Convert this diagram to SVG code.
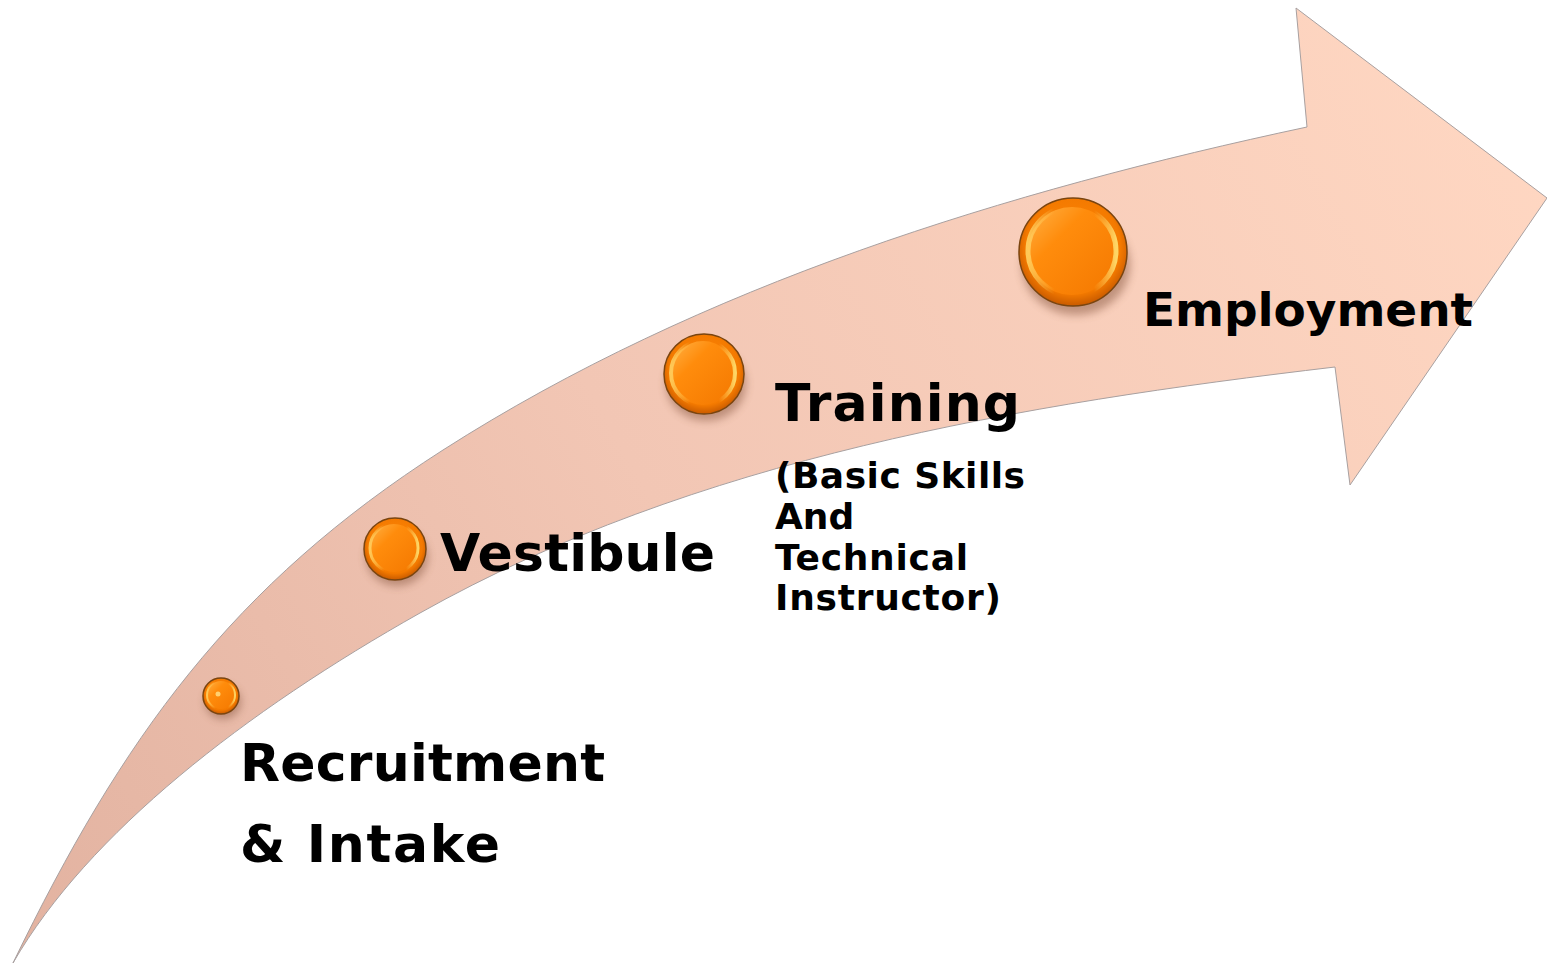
<svg xmlns="http://www.w3.org/2000/svg" width="1547" height="967" viewBox="0 0 1547 967">
<defs>
<linearGradient id="arrowGrad" x1="0" y1="967" x2="1547" y2="100" gradientUnits="userSpaceOnUse">
<stop offset="0" stop-color="#e2b2a0"/>
<stop offset="0.45" stop-color="#f2c6b4"/>
<stop offset="1" stop-color="#ffd7c2"/>
</linearGradient>
<radialGradient id="ballBody" cx="0.5" cy="0.45" r="0.55">
<stop offset="0" stop-color="#ff8a0a"/>
<stop offset="0.8" stop-color="#f47a00"/>
<stop offset="1" stop-color="#c85a00"/>
</radialGradient>
<linearGradient id="ballInner" x1="0" y1="0" x2="1" y2="1">
<stop offset="0" stop-color="#ffb347"/>
<stop offset="0.35" stop-color="#ff8c0c"/>
<stop offset="1" stop-color="#f47800"/>
</linearGradient>
<linearGradient id="rimLight" x1="0" y1="0" x2="1" y2="0">
<stop offset="0" stop-color="#ffd060" stop-opacity="0.9"/>
<stop offset="0.3" stop-color="#ffd060" stop-opacity="0"/>
<stop offset="0.75" stop-color="#ffd060" stop-opacity="0"/>
<stop offset="1" stop-color="#ffe070" stop-opacity="0.9"/>
</linearGradient>
<filter id="shadow" x="-50%" y="-50%" width="200%" height="200%">
<feGaussianBlur stdDeviation="4"/>
</filter>
</defs>
<style>
.lbl{font-family:"DejaVu Sans","Liberation Sans",sans-serif;font-weight:bold;fill:#000;}
.big{font-size:52px;}
.mid{font-size:47px;}
.small{font-size:36px;}
.rim{fill:url(#ballBody);stroke:#7a4510;stroke-width:1.5;}
.inner{fill:url(#ballInner);}
.gloss{fill:none;stroke:url(#rimLight);}
.shd{fill:#7a4a30;opacity:0.45;filter:url(#shadow);}
</style>
<g id="connectors">
<path id="arrow" fill="url(#arrowGrad)" stroke="#a8a0a0" stroke-width="1" d="M13,963 C122,738 232,585 443,450 C701,285 1007,191 1307,127 L1296,8 L1547,198 L1350,485 L1335,367 C1021,404 696,458 420,613 C246,711 88,833 13,963 Z"/>
</g>
<g id="node-recruitment">
<ellipse class="shd" cx="223" cy="702" rx="18" ry="17"/>
<circle class="rim" cx="221" cy="696" r="18"/>
<circle class="inner" cx="221" cy="695" r="14"/>
<circle class="gloss" cx="221" cy="695" r="14" stroke-width="2"/>
<circle cx="218" cy="694" r="2.5" fill="#ffd070"/>
<text class="lbl big" x="240" y="781" textLength="365">Recruitment</text>
<text class="lbl big" x="240" y="862" textLength="260">&amp; Intake</text>
</g>
<g id="node-vestibule">
<ellipse class="shd" cx="397" cy="557" rx="31" ry="29"/>
<circle class="rim" cx="395" cy="549" r="31"/>
<circle class="inner" cx="394" cy="548" r="24"/>
<circle class="gloss" cx="394" cy="548" r="24" stroke-width="3"/>
<text class="lbl big" x="440" y="571" textLength="275">Vestibule</text>
</g>
<g id="node-training">
<ellipse class="shd" cx="706" cy="384" rx="40" ry="37"/>
<circle class="rim" cx="704" cy="374" r="40"/>
<circle class="inner" cx="703" cy="373" r="32"/>
<circle class="gloss" cx="703" cy="373" r="32" stroke-width="4"/>
<text class="lbl big" x="775" y="421" textLength="245">Training</text>
<text class="lbl small" x="775" y="488" textLength="250">(Basic Skills</text>
<text class="lbl small" x="775" y="529">And</text>
<text class="lbl small" x="775" y="570" textLength="193">Technical</text>
<text class="lbl small" x="775" y="610" textLength="226">Instructor)</text>
</g>
<g id="node-employment">
<ellipse class="shd" cx="1076" cy="265" rx="54" ry="50"/>
<circle class="rim" cx="1073" cy="252" r="54"/>
<circle class="inner" cx="1072" cy="251" r="44"/>
<circle class="gloss" cx="1072" cy="251" r="44" stroke-width="5"/>
<text class="lbl mid" x="1143" y="326" textLength="330">Employment</text>
</g>
</svg>
